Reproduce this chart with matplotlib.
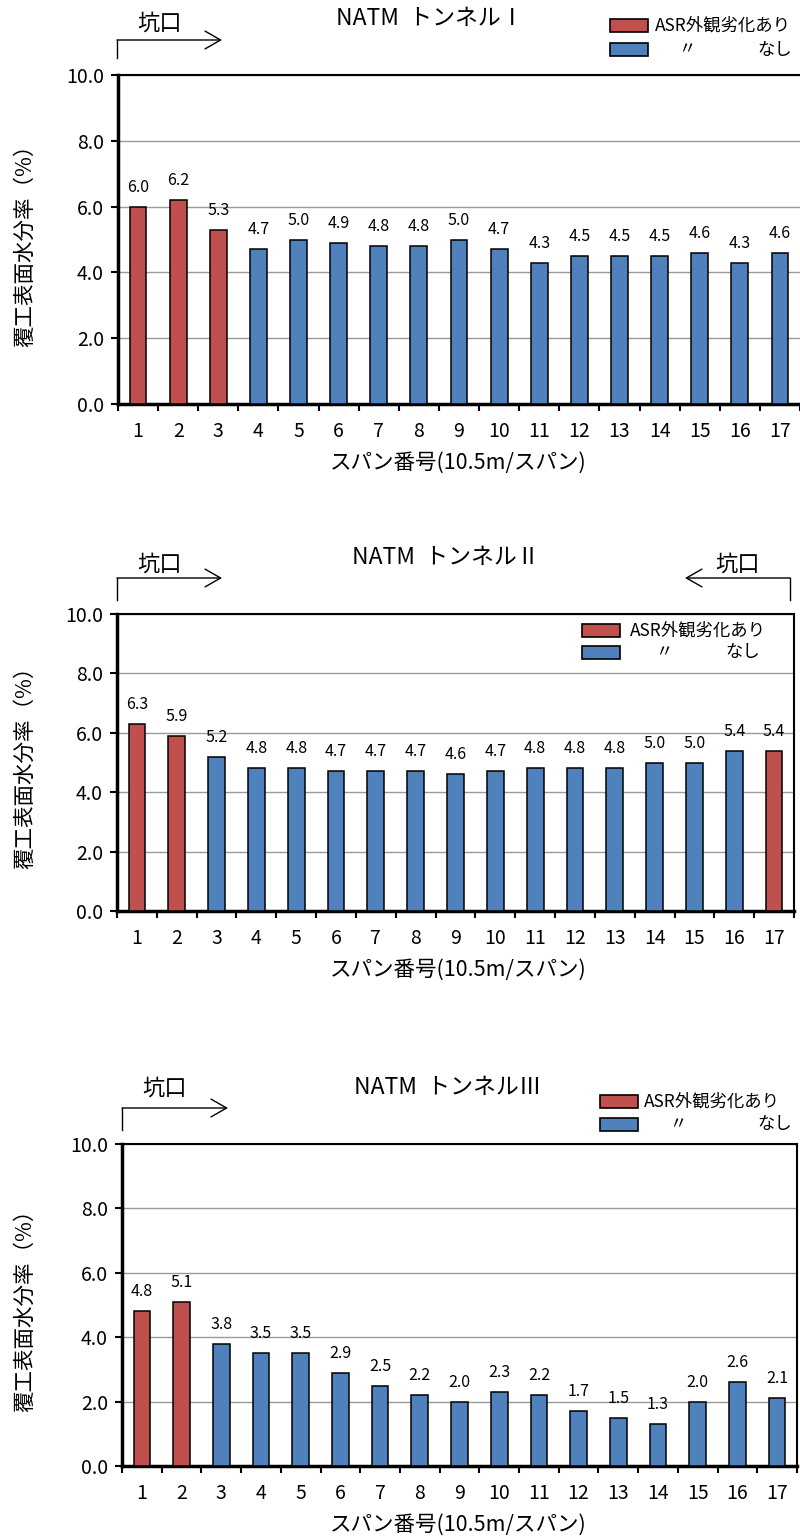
import matplotlib
matplotlib.use("Agg")
import matplotlib.pyplot as plt
from matplotlib.patches import Rectangle, FancyArrowPatch
from matplotlib.lines import Line2D

plt.rcParams['font.family'] = ['Noto Sans CJK JP', 'DejaVu Sans']

spans = [str(i) for i in range(1, 18)]
titles = ["NATM  トンネルⅠ", "NATM  トンネルⅡ", "NATM  トンネルⅢ"]
values_1 = [6.0, 6.2, 5.3, 4.7, 5.0, 4.9, 4.8, 4.8, 5.0, 4.7, 4.3, 4.5, 4.5, 4.5, 4.6, 4.3, 4.6]
values_2 = [6.3, 5.9, 5.2, 4.8, 4.8, 4.7, 4.7, 4.7, 4.6, 4.7, 4.8, 4.8, 4.8, 5.0, 5.0, 5.4, 5.4]
values_3 = [4.8, 5.1, 3.8, 3.5, 3.5, 2.9, 2.5, 2.2, 2.0, 2.3, 2.2, 1.7, 1.5, 1.3, 2.0, 2.6, 2.1]
asr_1 = [1, 1, 1, 0, 0, 0, 0, 0, 0, 0, 0, 0, 0, 0, 0, 0, 0]
asr_2 = [1, 1, 0, 0, 0, 0, 0, 0, 0, 0, 0, 0, 0, 0, 0, 0, 1]
asr_3 = [1, 1, 0, 0, 0, 0, 0, 0, 0, 0, 0, 0, 0, 0, 0, 0, 0]
yticks = [0, 2, 4, 6, 8, 10]
legend_red = "ASR外観劣化あり"
legend_blue = ("〃", "なし")
ylabel = "覆工表面水分率（%）"
xlabel = "スパン番号(10.5m/スパン)"
portal = "坑口"

RED = "#C0504D"
BLUE = "#4F81BD"

W, H = 800, 1537
fig = plt.figure(figsize=(W / 100, H / 100), dpi=100)


def fx(x):
    return x / W


def fy(y):
    return 1 - y / H


def make_axes(x0, x1, ytop, ybot):
    return fig.add_axes([fx(x0), fy(ybot), (x1 - x0) / W, (ybot - ytop) / H])


def draw_chart(ax, vals, flags, right_spine):
    x = list(range(len(vals)))
    colors = [RED if f else BLUE for f in flags]
    ax.bar(x, vals, width=0.42, color=colors, edgecolor="black", linewidth=1.1, zorder=3)
    for xi, v in zip(x, vals):
        ax.annotate(f"{v:.1f}", (xi, v), xytext=(0, 14), textcoords="offset points",
                    ha="center", va="center", fontsize=11.5, zorder=4)
    ax.set_xlim(-0.5, len(vals) - 0.5)
    ax.set_ylim(0, 10)
    ax.set_yticks(yticks)
    ax.set_yticklabels([f"{t:.1f}" for t in yticks], fontsize=14)
    ax.set_xticks(x)
    ax.set_xticklabels(spans, fontsize=14)
    ax.set_xticks([i - 0.5 for i in range(len(vals) + 1)], minor=True)
    ax.tick_params(axis="x", which="major", length=0, pad=12)
    ax.tick_params(axis="x", which="minor", length=5, width=1.5, direction="out")
    ax.tick_params(axis="y", which="major", length=5, width=1.5, direction="out", pad=5)
    ax.grid(axis="y", color="#9a9a9a", linewidth=1, zorder=0)
    ax.set_axisbelow(True)
    ax.spines["left"].set_linewidth(2.5)
    ax.spines["bottom"].set_linewidth(2.5)
    ax.spines["top"].set_linewidth(1.5)
    ax.spines["right"].set_linewidth(1.5)
    ax.spines["right"].set_visible(right_spine)


def legend(xr, yr, yb, xt, xmark, xend):
    for y, c in [(yr, RED), (yb, BLUE)]:
        fig.add_artist(Rectangle((fx(xr), fy(y + 13)), 38 / W, 13 / H, transform=fig.transFigure,
                                 facecolor=c, edgecolor="black", linewidth=1.2))
    fig.text(fx(xt), fy(yr + 6.5), legend_red, fontsize=12.5, va="center", ha="left")
    fig.text(fx(xmark), fy(yb + 6.5), legend_blue[0], fontsize=12.5, va="center", ha="center")
    fig.text(fx(xend), fy(yb + 6.5), legend_blue[1], fontsize=12.5, va="center", ha="right")


def bracket_arrow(xv, ytop, ybot, xend, xtext, ytext):
    fig.add_artist(Line2D([fx(xv), fx(xv)], [fy(ybot), fy(ytop)], color="black", lw=1,
                          transform=fig.transFigure))
    fig.add_artist(FancyArrowPatch((fx(xv), fy(ytop)), (fx(xend), fy(ytop)),
                                   arrowstyle="->,head_length=0.7,head_width=0.4",
                                   mutation_scale=16, color="black", lw=1,
                                   shrinkA=0, shrinkB=0, transform=fig.transFigure))
    fig.text(fx(xtext), fy(ytext), portal, fontsize=16, ha="center", va="center")


datasets = [
    (values_1, asr_1, (118, 800, 75, 404), False),
    (values_2, asr_2, (117, 794, 614, 911), True),
    (values_3, asr_3, (122, 797, 1144, 1466), True),
]
title_pos = [(430, 18), (446, 557), (448, 1087)]
ylabel_y = [240, 762, 1305]
xlabel_y = [463, 970, 1525]

for i, (vals, flags, (x0, x1, yt, yb), rs) in enumerate(datasets):
    ax = make_axes(x0, x1, yt, yb)
    draw_chart(ax, vals, flags, rs)
    tx, ty = title_pos[i]
    fig.text(fx(tx), fy(ty), titles[i], fontsize=16.5, ha="center", va="center")
    fig.text(fx(25), fy(ylabel_y[i]), ylabel, fontsize=15.5, rotation=90, ha="center", va="center")
    fig.text(fx(458), fy(xlabel_y[i]), xlabel, fontsize=15.5, ha="center", va="center")

# legends
legend(610, 19, 43, 655, 687, 792)
legend(582, 624, 646, 630, 664, 760)
legend(600, 1095, 1118, 644, 678, 792)

# portal arrows
bracket_arrow(117, 40, 58, 222, 160, 23)
bracket_arrow(117, 578, 600, 222, 160, 564)
bracket_arrow(790, 578, 600, 685, 738, 564)
bracket_arrow(122, 1108, 1130, 228, 165, 1088)

fig.savefig("out.png", dpi=100)
